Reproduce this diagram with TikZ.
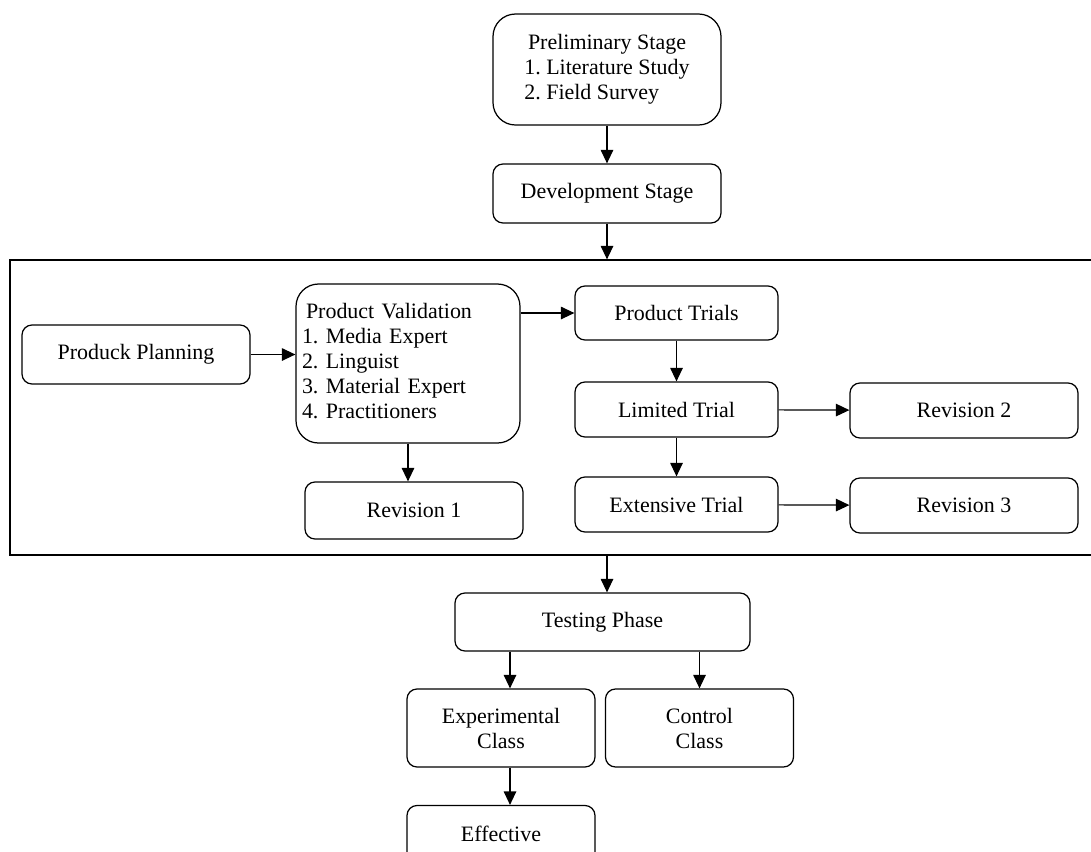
\documentclass[tikz,border=0pt]{standalone}
\usepackage{fontspec}
\setmainfont{Liberation Serif}
\usetikzlibrary{arrows.meta}
\tikzset{
    box/.style={draw, rounded corners=0.2cm, line width=0.7pt, minimum width=4.56cm,
        minimum height=1.18cm, align=center, font=\fontsize{12.5}{14.2}\selectfont},
    roundbox/.style={box, rounded corners=0.45cm},
    arr/.style={-{Triangle[length=0.27cm,width=0.25cm]}, line width=0.7pt},
}
\begin{document}
\begin{tikzpicture}
                \clip (0,0) rectangle (21.82,-17.02);
                \node[draw, line width=0.7pt, minimum width=21.8cm, minimum height=5.9cm] (frame) at (11.1,-8.15) {};
                \node[roundbox, minimum height=2.22cm] (prelim) at (12.14,-1.39) {\begin{tabular}{@{}l@{}}\multicolumn{1}{@{}c@{}}{Preliminary Stage}\\1.~Literature Study\\2.~Field Survey\end{tabular}};
                \node[box] (dev) at (12.14,-3.87) {Development Stage};
                \node[box] (plan) at (2.72,-7.09) {Produck Planning};
                \node[roundbox, minimum width=4.48cm, minimum height=3.18cm, text width=4.24cm, inner xsep=0.12cm, align=left] (valid) at (8.16,-7.27) {\begin{tabular}{@{}l@{}}\hspace{0.08cm}Product Validation\\1.~Media Expert\\2.~Linguist\\3.~Material Expert\\4.~Practitioners\end{tabular}};
                \node[box, minimum width=4.36cm, minimum height=1.14cm] (rev1) at (8.28,-10.21) {Revision 1};
                \node[box, minimum width=4.06cm, minimum height=1.08cm] (trials) at (13.53,-6.26) {Product Trials};
                \node[box, minimum width=4.06cm, minimum height=1.1cm] (limited) at (13.53,-8.19) {Limited Trial};
                \node[box, minimum width=4.06cm, minimum height=1.1cm] (extensive) at (13.53,-10.09) {Extensive Trial};
                \node[box, minimum height=1.1cm] (rev2) at (19.28,-8.21) {Revision 2};
                \node[box, minimum height=1.1cm] (rev3) at (19.28,-10.11) {Revision 3};
                \node[box, minimum width=5.9cm, minimum height=1.16cm] (testing) at (12.05,-12.44) {Testing Phase};
                \node[box, minimum width=3.76cm, minimum height=1.56cm] (expclass) at (10.02,-14.56) {Experimental\\Class};
                \node[box, minimum width=3.76cm, minimum height=1.56cm] (control) at (13.99,-14.56) {Control\\Class};
                \node[box, minimum width=3.76cm, minimum height=1.14cm] (effective) at (10.02,-16.68) {Effective};
                \draw[arr] (prelim) -- (dev);
                \draw[arr] (dev) -- (dev |- frame.north);
                \draw[arr] (plan.east) -- (plan.east -| valid.west);
                \draw[arr] (valid.east |- trials) -- (trials);
                \draw[arr] (valid) -- (valid |- rev1.north);
                \draw[arr] (trials) -- (limited);
                \draw[arr] (limited) -- (extensive);
                \draw[arr] (limited) -- (rev2);
                \draw[arr] (extensive) -- (rev3);
                \draw[arr] (dev |- frame.south) -- (dev |- testing.north);
                \draw[arr] ([xshift=0.18cm]testing.south -| expclass) -- ([xshift=0.18cm]expclass.north);
                \draw[arr] (testing.south -| control) -- (control);
                \draw[arr] ([xshift=0.18cm]expclass.south) -- ([xshift=0.18cm]effective.north);
            \end{tikzpicture}
\end{document}
